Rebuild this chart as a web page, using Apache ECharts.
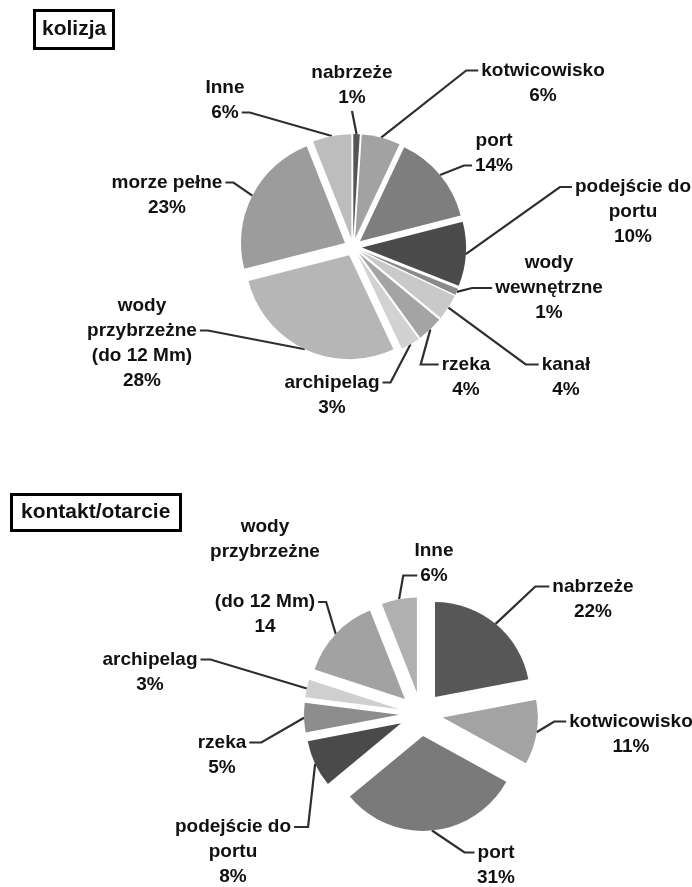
<!DOCTYPE html>
<html>
<head>
<meta charset="utf-8">
<script src="https://cdn.jsdelivr.net/npm/echarts@6/dist/echarts.min.js"></script>
<style>
  html, body { margin: 0; padding: 0; background: #fff; }
  #chart { width: 692px; height: 887px; }
</style>
</head>
<body>
<div id="chart"></div>
<script>
// ---- kolizja: share of collisions by area (%) ----
const kolizjaCategories = ['nabrzeże', 'kotwicowisko', 'port', 'podejście do portu', 'wody wewnętrzne',
  'kanał', 'rzeka', 'archipelag', 'wody przybrzeżne (do 12 Mm)', 'morze pełne', 'Inne'];
const kolizjaValues = [1, 6, 14, 10, 1, 4, 4, 3, 28, 23, 6];
const kolizjaLabelText = ['nabrzeże', 'kotwicowisko', 'port', 'podejście do\nportu', 'wody\nwewnętrzne',
  'kanał', 'rzeka', 'archipelag', 'wody\nprzybrzeżne\n(do 12 Mm)', 'morze pełne', 'Inne'];
const kolizjaUnits = ['%', '%', '%', '%', '%', '%', '%', '%', '%', '%', '%'];

// ---- kontakt/otarcie: share of contact / abrasion incidents by area ----
const kontaktCategories = ['nabrzeże', 'kotwicowisko', 'port', 'podejście do portu', 'rzeka',
  'archipelag', 'wody przybrzeżne (do 12 Mm)', 'Inne'];
const kontaktValues = [22, 11, 31, 8, 5, 3, 14, 6];
const kontaktLabelText = ['nabrzeże', 'kotwicowisko', 'port', 'podejście do\nportu', 'rzeka',
  'archipelag', 'wody\nprzybrzeżne\n\n(do 12 Mm)', 'Inne'];
const kontaktUnits = ['%', '%', '%', '%', '%', '%', '', '%'];

// ---- styling ----
const kolizjaColors = ['#555555', '#a2a2a2', '#7e7e7e', '#4b4b4b', '#8a8a8a', '#c9c9c9',
  '#a4a4a4', '#d2d2d2', '#b6b6b6', '#9c9c9c', '#bdbdbd'];
const kontaktColors = ['#575757', '#a3a3a3', '#7a7a7a', '#4a4a4a', '#8d8d8d', '#cfcfcf',
  '#a2a2a2', '#b0b0b0'];

const FONT_FAMILY = '"Liberation Sans", Arial, sans-serif';
const FONT_SIZE = 19;
const LINE_H = 25;
const TEXT_COLOR = '#111111';
const LEADER_COLOR = '#2e2e2e';

// label block centre, which side of which text line the leader joins, and its short elbow
const kolizjaLabelPlace = [
  { x: 352, y: 85,  side: 'bottom' },
  { x: 543, y: 83,  side: 'left',  line: 0, len2: 12 },
  { x: 494, y: 153, side: 'left',  line: 1, len2: 8 },
  { x: 633, y: 212, side: 'left',  line: 0, len2: 12 },
  { x: 549, y: 288, side: 'left',  line: 1, len2: 20 },
  { x: 566, y: 377, side: 'left',  line: 0, len2: 13 },
  { x: 466, y: 377, side: 'left',  line: 0, len2: 18 },
  { x: 332, y: 395, side: 'right', line: 0, len2: 8 },
  { x: 142, y: 343, side: 'right', line: 1, len2: 8 },
  { x: 167, y: 195, side: 'right', line: 0, len2: 8 },
  { x: 225, y: 100, side: 'right', line: 1, len2: 8 }
];
const kontaktLabelPlace = [
  { x: 593, y: 599, side: 'left',  line: 0, len2: 14 },
  { x: 631, y: 734, side: 'left',  line: 0, len2: 12 },
  { x: 496, y: 865, side: 'left',  line: 0, len2: 10 },
  { x: 233, y: 852, side: 'right', line: 0, len2: 14 },
  { x: 222, y: 755, side: 'right', line: 0, len2: 12 },
  { x: 150, y: 672, side: 'right', line: 0, len2: 10 },
  { x: 265, y: 577, side: 'right', line: 3, len2: 8 },
  { x: 434, y: 563, side: 'left',  line: 1, len2: 14 }
];

const measureCtx = document.createElement('canvas').getContext('2d');
measureCtx.font = 'bold ' + FONT_SIZE + 'px ' + FONT_FAMILY;
function textWidth(s) { return measureCtx.measureText(s).width; }

function makeLabelLayout(place) {
  return function (params) {
    const p = place[params.dataIndex];
    const lines = params.text.split('\n');
    const h = lines.length * LINE_H;
    const top = p.y - h / 2;
    const anchor = params.labelLinePoints ? params.labelLinePoints[0] : [p.x, p.y];
    let end, elbow;
    if (p.side === 'bottom') {
      end = [p.x, top + h + 1];
      elbow = end;
    } else {
      const w = textWidth(lines[p.line]);
      const ey = top + LINE_H * (p.line + 0.5);
      const ex = p.side === 'left' ? p.x - w / 2 - 3 : p.x + w / 2 + 3;
      const bx = p.side === 'left' ? ex - p.len2 : ex + p.len2;
      end = [ex, ey];
      elbow = [bx, ey];
    }
    return {
      x: p.x, y: p.y, align: 'center', verticalAlign: 'middle',
      labelLinePoints: [anchor, elbow, end]
    };
  };
}

// exploded slices
function slicesSeries(categories, values, colors, center, radius, offset) {
  return {
    type: 'pie',
    center: center,
    radius: radius,
    startAngle: 90,
    clockwise: true,
    selectedMode: 'multiple',
    selectedOffset: offset,
    silent: true,
    animation: false,
    label: { show: false },
    labelLine: { show: false },
    emphasis: { disabled: true },
    select: { itemStyle: { borderWidth: 0 } },
    data: categories.map((name, i) => ({
      name: name, value: values[i], selected: true,
      itemStyle: { color: colors[i] },
      select: { itemStyle: { color: colors[i] } }
    }))
  };
}

// invisible ring at the exploded outer radius that carries the labels and leader lines
function labelSeries(categories, values, labelText, units, center, radius, place) {
  return {
    type: 'pie',
    center: center,
    radius: radius,
    startAngle: 90,
    clockwise: true,
    silent: true,
    animation: false,
    avoidLabelOverlap: false,
    itemStyle: { color: 'rgba(0,0,0,0)' },
    emphasis: { disabled: true },
    label: {
      show: true,
      position: 'outside',
      color: TEXT_COLOR,
      fontFamily: FONT_FAMILY,
      fontSize: FONT_SIZE,
      fontWeight: 'bold',
      lineHeight: LINE_H,
      formatter: (prm) => labelText[prm.dataIndex] + '\n' + prm.value + units[prm.dataIndex]
    },
    labelLine: {
      show: true, length: 10, length2: 10,
      lineStyle: { color: LEADER_COLOR, width: 2.2 }
    },
    labelLayout: makeLabelLayout(place),
    data: categories.map((name, i) => ({ name: name, value: values[i] }))
  };
}

const titleStyle = { fontSize: 21, fontWeight: 'bold', color: '#111', fontFamily: FONT_FAMILY };

const chart = echarts.init(document.getElementById('chart'), null, { renderer: 'canvas' });
chart.setOption({
  backgroundColor: '#ffffff',
  animation: false,
  title: [
    { text: 'kolizja', left: 34, top: 10, padding: [9, 8], borderWidth: 3, borderColor: '#000',
      textStyle: titleStyle },
    { text: 'kontakt/otarcie', left: 11, top: 494, padding: [8, 10], borderWidth: 3, borderColor: '#000',
      textStyle: titleStyle }
  ],
  series: [
    slicesSeries(kolizjaCategories, kolizjaValues, kolizjaColors, [353, 247], 104, 9),
    labelSeries(kolizjaCategories, kolizjaValues, kolizjaLabelText, kolizjaUnits, [353, 247], 113, kolizjaLabelPlace),
    slicesSeries(kontaktCategories, kontaktValues, kontaktColors, [421, 714], 95, 22),
    labelSeries(kontaktCategories, kontaktValues, kontaktLabelText, kontaktUnits, [421, 714], 117, kontaktLabelPlace)
  ]
});
</script>
</body>
</html>
